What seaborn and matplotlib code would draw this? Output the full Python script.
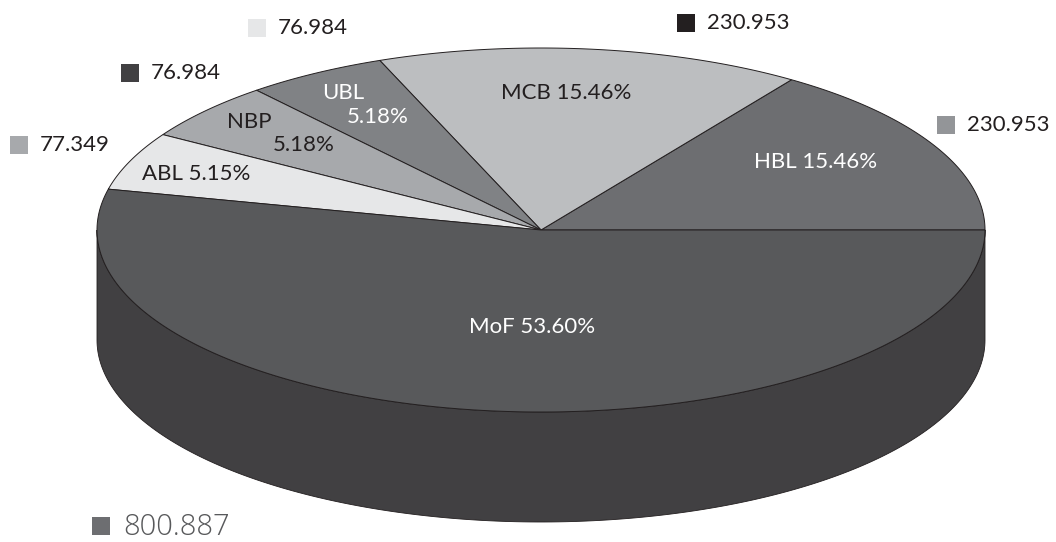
"""
3D-style pie: shares of MoF and banks (grayscale), drawn as projected ellipse wedges
"""
import numpy as np
import matplotlib.pyplot as plt
import seaborn as sns
from matplotlib.patches import Polygon, Rectangle

sns.set_theme(style="white")
plt.rcParams['font.family'] = ['Lato', 'DejaVu Sans']

# data, counter-clockwise from 3 o'clock
banks = ["HBL", "MCB", "UBL", "NBP", "ABL", "MoF"]
amounts = [230.953, 230.953, 76.984, 76.984, 77.349, 800.887]
pct_text = ["15.46%", "15.46%", "5.18%", "5.18%", "5.15%", "53.60%"]
value_text = ["230.953", "230.953", "76.984", "76.984", "77.349", "800.887"]

# styles
top_colors = ["#6d6e71", "#bcbec0", "#808285", "#a7a9ac", "#e6e7e8", "#58595b"]
side_colors = ["#4d4d4f", "#8a8b8d", "#5e5f61", "#7d7e80", "#b0b1b3", "#414042"]
label_colors = ["white", "#231f20", "white", "#231f20", "#231f20", "white"]
swatch_colors = ["#939598", "#231f20", "#e6e7e8", "#414042", "#a7a9ac", "#6d6e71"]

# label layout (pixel coords)
label_pos = [(816, 162), (566, 93), (None, None), (None, None), (196, 174), (532, 327)]
swatch_pos = [(937, 125), (677, 23), (248, 28), (121, 73), (10, 145), (92, 526)]

cx, cy, a, b, depth = 541, 230, 444, 182, 110
fs = 16

fig = plt.figure(figsize=(10.56, 5.42), dpi=100)
ax = fig.add_axes([0, 0, 1, 1])
ax.set_xlim(0, 1056)
ax.set_ylim(542, 0)
ax.axis('off')

fracs = np.array(amounts) / np.sum(amounts)
edges = np.concatenate([[0], np.cumsum(fracs) * 360])


def rim(t0, t1, dy=0):
    t = np.radians(np.linspace(t0, t1, 200))
    return np.column_stack([cx + a * np.cos(t), cy - b * np.sin(t) + dy])


# sides (only the front half, 180..360 deg, is visible)
for i in range(len(banks)):
    lo, hi = max(edges[i], 180), min(edges[i + 1], 360)
    if hi <= lo:
        continue
    upper = rim(lo, hi)
    lower = rim(hi, lo, depth)
    ax.add_patch(Polygon(np.vstack([upper, lower]), closed=True,
                         facecolor=side_colors[i], edgecolor='#231f20', lw=0.6, zorder=1))

# tops
for i in range(len(banks)):
    pts = np.vstack([[cx, cy], rim(edges[i], edges[i + 1])])
    ax.add_patch(Polygon(pts, closed=True, facecolor=top_colors[i],
                         edgecolor='#231f20', lw=0.7, zorder=2))

# slice labels
for i, name in enumerate(banks):
    x, y = label_pos[i]
    if x is None:
        continue
    ax.text(x, y, f"{name} {pct_text[i]}", color=label_colors[i], fontsize=fs,
            ha='center', va='center', zorder=3)
# two-line labels of the thin slices
ax.text(322, 93, banks[2], color=label_colors[2], fontsize=fs, ha='left', va='center', zorder=3)
ax.text(347, 117, pct_text[2], color=label_colors[2], fontsize=fs, ha='left', va='center', zorder=3)
ax.text(227, 122, banks[3], color=label_colors[3], fontsize=fs, ha='left', va='center', zorder=3)
ax.text(273, 145, pct_text[3], color=label_colors[3], fontsize=fs, ha='left', va='center', zorder=3)

# value swatches
for i in range(len(banks)):
    x, y = swatch_pos[i]
    s = 18
    ax.add_patch(Rectangle((x, y - s / 2), s, s, facecolor=swatch_colors[i],
                           edgecolor='none', zorder=3))
    if banks[i] == "MoF":
        ax.text(x + s + 13, y + 1, value_text[i], fontsize=21, color='#58595b',
                family=['Open Sans', 'DejaVu Sans'], fontweight='light',
                ha='left', va='center')
    else:
        ax.text(x + s + 12, y, value_text[i], fontsize=fs, color='#231f20',
                ha='left', va='center')

plt.savefig('out.png', dpi=100)
